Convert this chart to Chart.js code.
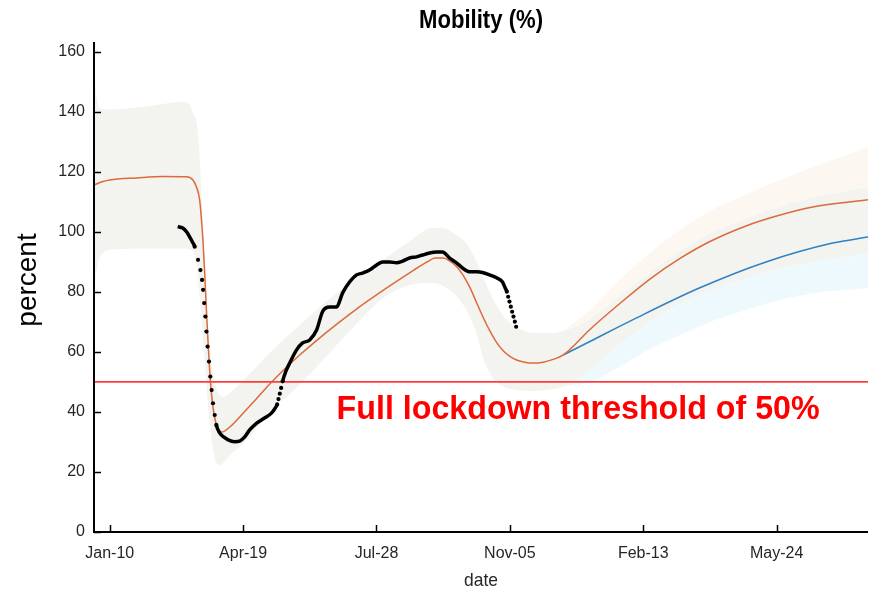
<!DOCTYPE html>
<html>
<head>
<meta charset="utf-8">
<script src="https://cdn.jsdelivr.net/npm/chart.js@4.4.0/dist/chart.umd.min.js"></script>
<style>
  html, body { margin: 0; padding: 0; background: #fff; }
  #wrap { width: 872px; height: 590px; }
</style>
</head>
<body>
<div id="wrap"><canvas id="mobilityChart" width="872" height="590"></canvas></div>
<script>
// x values are days counted from Jan-10 (2020)
const xMin = -11.8;
const xMax = 568.5;
const yMax = 163.3;
const xTickDays = [0, 100, 200, 300, 400, 500];
const xTickLabels = ['Jan-10', 'Apr-19', 'Jul-28', 'Nov-05', 'Feb-13', 'May-24'];
const yTicks = [0, 20, 40, 60, 80, 100, 120, 140, 160];
const threshold = 50;

// observed mobility (black)
const blackDays = [51, 54.7, 57.7, 60, 62.2, 63.7, 66.2, 68, 69.2, 70, 70.8, 71.7, 72.5, 73.4, 74.4, 75.4,
  76.4, 77.4, 78.7, 79.9, 82.4, 85.7, 88.4, 93.7, 97.4, 101.2, 104.9, 110.2, 116.1, 121.4, 123.6, 125.5,
  126.5, 127.5, 128.5, 129.6, 132, 134.9, 140.1, 144.6, 149.9, 155.1, 159.6, 164.9, 170.1, 174.6, 179.8,
  185.1, 189.6, 194.8, 200.1, 204.6, 209.8, 215.1, 219.6, 224.8, 230, 234.5, 239.8, 245, 249.5, 254.8,
  260, 264.5, 269.8, 275, 279.5, 284.7, 290, 294.5, 296, 297.7, 298.7, 299.7, 300.7, 301.7, 302.7, 303.7, 304.7];
const blackValues = [101.8, 101.3, 100, 98.3, 96.5, 95.1, 90.7, 87.3, 84, 80.7, 76.3, 71.8, 66.8, 61.8, 56.8, 51.8,
  47.3, 42.9, 39, 35.7, 33, 31.6, 30.8, 30.1, 30.3, 31.7, 34, 36.3, 38, 39.7, 41, 42.5,
  44.3, 46.1, 48, 50.2, 53.5, 56.3, 60.7, 63, 64, 67.3, 73.5, 75, 75, 79.7, 83.3,
  85.7, 86.3, 87.3, 89, 90, 90, 89.7, 90.3, 91.3, 91.7, 92.3, 93, 93.3, 93.3, 91.3,
  89.7, 88, 86.7, 86.7, 86.5, 85.7, 84.7, 83.3, 81.8, 80.1, 78.4, 76.8, 75.1, 73.4, 71.8, 70.1, 68.4];

// model fit (orange)
const orangeDays = [-11.8, -5, 0, 20, 40, 57.5, 62.4, 65, 67.4, 69.9, 71.2, 72.7, 75.4, 78.5, 84, 90, 100, 110,
  120, 130, 142, 155, 170, 185, 200, 215, 228, 238, 244, 250, 255, 260, 265, 270, 275, 280, 285, 290,
  295, 300, 305, 312, 317, 325, 333, 340,
  360, 382, 405, 427, 450, 477, 500, 527, 568.5];
const orangeValues = [115.7, 116.8, 117.3, 118, 118.5, 118.4, 117.3, 115, 110.7, 97, 86.3, 72, 50.7, 38.5, 33.3, 35, 39.6, 44.4,
  49.3, 53.8, 58.8, 63.8, 69.2, 74.3, 79, 83.5, 87.3, 90, 91.3, 91.3, 90.3, 88.5, 85.5, 81.5, 76.5, 71.5, 67, 63.2,
  60.4, 58.5, 57.3, 56.5, 56.3, 56.6, 57.6, 59,
  67.5, 76, 84.3, 91, 96.8, 102, 105.3, 108.3, 110.7];

// second scenario (blue)
const blueDays = [340, 360, 392, 442, 492, 542, 568.5];
const blueValues = [59, 63.5, 70.7, 81.3, 90, 96.3, 98.3];

// uncertainty band of the fit, up to the split
const bandDays = [-11.8, -9.5, -6, 0, 30, 55, 60, 63, 65, 67, 69, 71, 73, 75, 77, 79, 82, 85, 90, 100, 110,
  120, 135, 155, 180, 205, 225, 242, 250, 258, 268, 275, 280, 287, 295, 305, 315, 330];
const bandHigh = [153, 144, 141, 140.8, 142, 143.3, 142.5, 139, 137, 128, 112, 92, 74, 62, 54, 49.5, 46, 45, 46.3, 50.5, 55,
  59.7, 66, 74, 83, 90.7, 97, 101.3, 101.3, 99.5, 96, 90, 85, 78, 72, 68.3, 66.5, 66.3];
const bandLow = [80, 88, 92.5, 94, 94.5, 94.5, 94.2, 93, 90, 80, 70, 58, 46, 36, 29, 24, 22.3, 23, 25.5, 29.5, 34.5,
  40.5, 46, 55, 67, 78, 82.3, 83, 82, 79.5, 73.5, 66, 58, 51.5, 48.5, 47.3, 47, 47.5];

// bands after the split
const splitDays = [340, 360, 382, 405, 427, 450, 477, 500, 527, 568.5];
const orangeBandHigh = [67, 74, 84, 93, 100.5, 107, 112.5, 117, 121.5, 128.3];
const blueBandHigh = [67, 71, 78.5, 86.5, 93.5, 99.5, 104.5, 108, 111.5, 115];
const orangeBandLow = [48.5, 54, 62.5, 70, 76, 80.5, 84.5, 87.5, 90, 93];
const blueBandLow = [48.5, 50, 55, 61, 65.5, 70, 74, 77, 79.5, 81.3];

const fontFamily = '"Liberation Sans", Arial, sans-serif';

function pts(days, values) {
  return days.map((d, i) => ({ x: d, y: values[i] }));
}

const blackPts = pts(blackDays, blackValues);
const steep = (a, b) => Math.abs((b.y - a.y) / (b.x - a.x)) > 1.5;
const dotted = blackPts.map((p, i) =>
  (i > 0 && steep(blackPts[i - 1], p)) || (i < blackPts.length - 1 && steep(p, blackPts[i + 1])));

const grayHighPts = pts(bandDays.concat(splitDays), bandHigh.concat(blueBandHigh));
const grayLowPts = pts(bandDays.concat(splitDays), bandLow.concat(orangeBandLow));

function band(data, fillTo, color) {
  return {
    data: data,
    borderColor: 'rgba(0,0,0,0)',
    borderWidth: 0,
    pointRadius: 0,
    cubicInterpolationMode: 'monotone',
    fill: fillTo === null ? false : { target: fillTo },
    backgroundColor: color
  };
}

// axes, inward ticks, title and annotations
const decorPlugin = {
  id: 'decor',
  afterDraw(chart) {
    const { ctx, chartArea, scales: { x, y } } = chart;
    ctx.save();
    ctx.strokeStyle = '#000';
    ctx.lineWidth = 2;
    ctx.beginPath();
    ctx.moveTo(chartArea.left, chartArea.top);
    ctx.lineTo(chartArea.left, chartArea.bottom);
    ctx.lineTo(chartArea.right, chartArea.bottom);
    ctx.stroke();

    ctx.lineWidth = 1.5;
    ctx.beginPath();
    x.ticks.forEach(t => {
      const px = Math.round(x.getPixelForValue(t.value)) + 0.5;
      ctx.moveTo(px, chartArea.bottom);
      ctx.lineTo(px, chartArea.bottom - 7);
    });
    y.ticks.forEach(t => {
      const py = Math.round(y.getPixelForValue(t.value)) + 0.5;
      ctx.moveTo(chartArea.left, py);
      ctx.lineTo(chartArea.left + 7, py);
    });
    ctx.stroke();

    // title
    ctx.fillStyle = '#000';
    ctx.textAlign = 'center';
    ctx.textBaseline = 'alphabetic';
    ctx.font = 'bold 25px ' + fontFamily;
    ctx.fillText('Mobility (%)', (chartArea.left + chartArea.right) / 2, 28, 124);

    // x axis title
    ctx.fillStyle = '#262626';
    ctx.font = '19px ' + fontFamily;
    ctx.fillText('date', (chartArea.left + chartArea.right) / 2, 586, 34);

    // y axis title
    ctx.save();
    ctx.translate(36, 280);
    ctx.rotate(-Math.PI / 2);
    ctx.fillStyle = '#000';
    ctx.font = '28px ' + fontFamily;
    ctx.fillText('percent', 0, 0);
    ctx.restore();

    // threshold note
    ctx.fillStyle = '#ff0000';
    ctx.textAlign = 'left';
    ctx.font = 'bold 33px ' + fontFamily;
    ctx.fillText('Full lockdown threshold of 50%', x.getPixelForValue(170.1), y.getPixelForValue(37.7), 483);
    ctx.restore();
  }
};

const ctx = document.getElementById('mobilityChart').getContext('2d');
new Chart(ctx, {
  type: 'line',
  data: {
    datasets: [
      {
        data: blackPts,
        borderColor: '#000',
        borderWidth: 3.5,
        cubicInterpolationMode: 'monotone',
        pointRadius: c => dotted[c.dataIndex] ? 2.1 : 0,
        pointBackgroundColor: '#000',
        pointBorderWidth: 0,
        fill: false,
        segment: {
          borderColor: c => steep(c.p0.parsed, c.p1.parsed) ? 'rgba(0,0,0,0)' : '#000'
        }
      },
      {
        data: [{ x: xMin, y: threshold }, { x: xMax, y: threshold }],
        borderColor: 'rgb(255,60,60)',
        borderWidth: 1.8,
        pointRadius: 0,
        fill: false
      },
      {
        data: pts(orangeDays, orangeValues),
        borderColor: '#dc6a3c',
        borderWidth: 1.5,
        pointRadius: 0,
        cubicInterpolationMode: 'monotone',
        fill: false
      },
      {
        data: pts(blueDays, blueValues),
        borderColor: '#2d82c6',
        borderWidth: 1.5,
        pointRadius: 0,
        cubicInterpolationMode: 'monotone',
        fill: false
      },
      band(grayHighPts, 5, 'rgb(243,243,239)'),
      band(grayLowPts, null, 'rgba(0,0,0,0)'),
      band(pts(splitDays, orangeBandHigh), 7, 'rgb(253,247,241)'),
      band(pts(splitDays, blueBandHigh), null, 'rgba(0,0,0,0)'),
      band(pts(splitDays, orangeBandLow), 9, 'rgb(237,249,253)'),
      band(pts(splitDays, blueBandLow), null, 'rgba(0,0,0,0)')
    ]
  },
  options: {
    responsive: false,
    animation: false,
    layout: { padding: { top: 42, right: 4, left: 0, bottom: 0 } },
    plugins: {
      legend: { display: false },
      tooltip: { enabled: false },
      title: { display: false },
      filler: { drawTime: 'beforeDatasetsDraw' }
    },
    scales: {
      x: {
        type: 'linear',
        min: xMin,
        max: xMax,
        grid: { display: false, drawTicks: false },
        border: { display: false },
        afterBuildTicks: s => { s.ticks = xTickDays.map(v => ({ value: v })); },
        afterFit: s => { s.height = 58; },
        ticks: {
          callback: (v, i) => xTickLabels[i],
          color: '#262626',
          font: { size: 16, family: fontFamily },
          padding: 12,
          maxRotation: 0,
          autoSkip: false
        }
      },
      y: {
        min: 0,
        max: yMax,
        grid: { display: false, drawTicks: false },
        border: { display: false },
        afterBuildTicks: s => { s.ticks = yTicks.map(v => ({ value: v })); },
        afterFit: s => { s.width = 94; },
        ticks: {
          color: '#262626',
          font: { size: 16, family: fontFamily },
          padding: 9
        }
      }
    }
  },
  plugins: [decorPlugin]
});
</script>
</body>
</html>
